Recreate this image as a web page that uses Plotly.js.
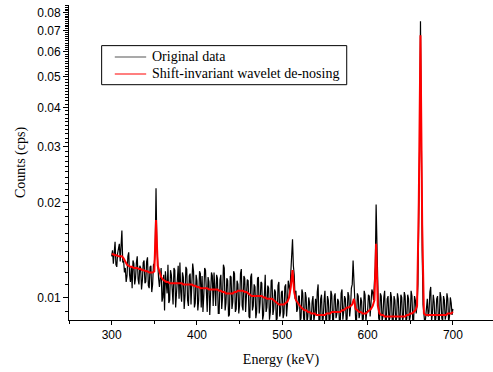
<!DOCTYPE html>
<html>
<head>
<meta charset="utf-8">
<script src="https://cdn.plot.ly/plotly-3.0.1.min.js"></script>
<style>html,body{margin:0;padding:0;background:#fff;}#chart{width:493px;height:372px;}</style>
</head>
<body>
<div id="chart"></div>
<script>
// Original data: 300 .. 700 keV, 1 keV channels
var originalStart = 300;
var originalStep = 1;
// De-noised data: 300 .. 700 keV, 2 keV step
var denoisedStart = 300;
var denoisedStep = 2;

// Original data (cps), 20 values per row, row start energy in comment
var originalData = [
  0.0135,0.0141,0.0128,0.0146,0.0150,0.0127,0.0125,0.0138,0.0142,0.0148,0.0130,0.0145,0.0163,0.0129,0.0131,0.0120,0.0124,0.0112,0.0117,0.0135, // 300
  0.0139,0.0118,0.0112,0.0125,0.0107,0.0131,0.0128,0.0110,0.0115,0.0129,0.0135,0.0114,0.0110,0.0126,0.0124,0.0106,0.0113,0.0129,0.0131,0.0111, // 320
  0.0112,0.0130,0.0134,0.0109,0.0107,0.0125,0.0126,0.0104,0.0110,0.0127,0.0128,0.0140,0.0222,0.0145,0.0126,0.0115,0.0108,0.0121,0.0124,0.0097, // 340
  0.0100,0.0118,0.0091,0.0121,0.0112,0.0103,0.0127,0.0096,0.0098,0.0122,0.0118,0.0101,0.0095,0.0124,0.0122,0.0093,0.0104,0.0119,0.0126,0.0099, // 360
  0.0129,0.0104,0.0097,0.0120,0.0116,0.0092,0.0101,0.0125,0.0123,0.0098,0.0094,0.0117,0.0119,0.0095,0.0106,0.0128,0.0121,0.0093,0.0096,0.0118, // 380
  0.0113,0.0091,0.0098,0.0121,0.0119,0.0093,0.0117,0.0090,0.0101,0.0124,0.0122,0.0095,0.0090,0.0116,0.0112,0.0088,0.0099,0.0120,0.0117,0.0094, // 400
  0.0120,0.0097,0.0094,0.0118,0.0115,0.0089,0.0089,0.0114,0.0118,0.0092,0.0100,0.0127,0.0124,0.0091,0.0096,0.0115,0.0113,0.0087,0.0088,0.0117, // 420
  0.0116,0.0092,0.0097,0.0121,0.0119,0.0090,0.0092,0.0113,0.0110,0.0089,0.0095,0.0119,0.0123,0.0094,0.0091,0.0117,0.0115,0.0090,0.0099,0.0114, // 440
  0.0113,0.0087,0.0086,0.0116,0.0119,0.0091,0.0094,0.0110,0.0108,0.0086,0.0090,0.0115,0.0116,0.0089,0.0096,0.0112,0.0111,0.0085,0.0088,0.0114, // 460
  0.0118,0.0090,0.0093,0.0109,0.0107,0.0085,0.0090,0.0113,0.0114,0.0088,0.0092,0.0106,0.0104,0.0084,0.0086,0.0109,0.0112,0.0087,0.0090,0.0104, // 480
  0.0105,0.0086,0.0089,0.0108,0.0110,0.0087,0.0095,0.0113,0.0109,0.0104,0.0120,0.0138,0.0153,0.0126,0.0118,0.0099,0.0105,0.0090,0.0092,0.0101, // 500
  0.0101,0.0084,0.0086,0.0106,0.0103,0.0086,0.0083,0.0104,0.0100,0.0083,0.0087,0.0100,0.0096,0.0082,0.0085,0.0097,0.0101,0.0084,0.0088,0.0099, // 520
  0.0088,0.0104,0.0110,0.0084,0.0083,0.0099,0.0102,0.0083,0.0086,0.0098,0.0105,0.0085,0.0084,0.0101,0.0098,0.0082,0.0086,0.0105,0.0102,0.0085, // 540
  0.0084,0.0101,0.0103,0.0086,0.0089,0.0099,0.0097,0.0083,0.0084,0.0103,0.0106,0.0085,0.0090,0.0101,0.0099,0.0083,0.0086,0.0104,0.0101,0.0087, // 560
  0.0093,0.0107,0.0110,0.0131,0.0112,0.0098,0.0085,0.0084,0.0103,0.0101,0.0086,0.0089,0.0100,0.0097,0.0083,0.0086,0.0105,0.0102,0.0084,0.0090, // 580
  0.0090,0.0102,0.0101,0.0087,0.0094,0.0106,0.0104,0.0098,0.0112,0.0125,0.0197,0.0120,0.0110,0.0086,0.0084,0.0103,0.0101,0.0084,0.0087,0.0100, // 600
  0.0105,0.0083,0.0085,0.0099,0.0101,0.0084,0.0086,0.0104,0.0100,0.0082,0.0084,0.0101,0.0098,0.0083,0.0086,0.0103,0.0099,0.0084,0.0083,0.0102, // 620
  0.0100,0.0084,0.0087,0.0104,0.0101,0.0083,0.0086,0.0102,0.0099,0.0084,0.0087,0.0105,0.0101,0.0083,0.0085,0.0101,0.0098,0.0089,0.0095,0.0110, // 640
  0.0160,0.0300,0.0751,0.0260,0.0140,0.0095,0.0090,0.0083,0.0086,0.0097,0.0099,0.0087,0.0090,0.0104,0.0108,0.0084,0.0089,0.0102,0.0097,0.0083, // 660
  0.0086,0.0099,0.0101,0.0085,0.0083,0.0104,0.0100,0.0086,0.0084,0.0101,0.0098,0.0085,0.0088,0.0103,0.0099,0.0083,0.0087,0.0100,0.0096,0.0088, // 680
  0.0092                                                                                                                                          // 700
];

// Shift-invariant wavelet de-noised data (cps), 10 values per row
var denoisedData = [
  0.0137,0.0137,0.0136,0.0136,0.0135,0.0135,0.0135,0.0133,0.0130,0.0127, // 300
  0.0126,0.0125,0.0125,0.0124,0.0124,0.0124,0.0123,0.0123,0.0122,0.0122, // 320
  0.0121,0.0121,0.0120,0.0120,0.0120,0.0121,0.0176,0.0126,0.0120,0.0116, // 340
  0.0114,0.0113,0.0112,0.0112,0.0111,0.0111,0.0111,0.0111,0.0111,0.0111, // 360
  0.0111,0.0111,0.0110,0.0110,0.0110,0.0110,0.0110,0.0110,0.0109,0.0109, // 380
  0.0108,0.0108,0.0107,0.0107,0.0107,0.0107,0.0107,0.0106,0.0106,0.0106, // 400
  0.0106,0.0106,0.0106,0.0105,0.0105,0.0104,0.0104,0.0103,0.0103,0.0103, // 420
  0.0103,0.0103,0.0104,0.0104,0.0105,0.0105,0.0105,0.0105,0.0104,0.0104, // 440
  0.0103,0.0102,0.0101,0.0101,0.0101,0.0101,0.0101,0.0101,0.0101,0.0100, // 460
  0.0100,0.0099,0.0099,0.0099,0.0099,0.0098,0.0097,0.0096,0.0095,0.0095, // 480
  0.0095,0.0095,0.0096,0.0097,0.0100,0.0108,0.0122,0.0104,0.0098,0.0096, // 500
  0.0094,0.0093,0.0092,0.0091,0.0091,0.0090,0.0090,0.0089,0.0089,0.0089, // 520
  0.0088,0.0088,0.0088,0.0088,0.0088,0.0088,0.0089,0.0089,0.0089,0.0090, // 540
  0.0090,0.0090,0.0090,0.0090,0.0090,0.0091,0.0091,0.0092,0.0093,0.0093, // 560
  0.0094,0.0095,0.0099,0.0092,0.0091,0.0090,0.0090,0.0089,0.0089,0.0089, // 580
  0.0090,0.0091,0.0092,0.0094,0.0098,0.0148,0.0094,0.0089,0.0088,0.0088, // 600
  0.0087,0.0087,0.0087,0.0087,0.0087,0.0087,0.0087,0.0087,0.0087,0.0087, // 620
  0.0087,0.0087,0.0087,0.0088,0.0088,0.0089,0.0089,0.0090,0.0091,0.0094, // 640
  0.0200,0.0678,0.0170,0.0089,0.0088,0.0088,0.0088,0.0088,0.0088,0.0088, // 660
  0.0088,0.0088,0.0088,0.0088,0.0088,0.0088,0.0088,0.0089,0.0089,0.0089, // 680
  0.0090                                                                   // 700
];

var seriesNames = ["Original data", "Shift-invariant wavelet de-nosing"];
var seriesColors = ["#000000", "#ff0000"];

var xTickVals = [300, 400, 500, 600, 700];
var xTickText = ["300", "400", "500", "600", "700"];
var yTickVals = [0.01, 0.02, 0.03, 0.04, 0.05, 0.06, 0.07, 0.08];
var yTickText = ["0.01", "0.02", "0.03", "0.04", "0.05", "0.06", "0.07", "0.08"];

// minor y ticks every 0.001
var yMinor = [];
for (var k = 8; k <= 84; k++) {
  if (k % 10 !== 0) yMinor.push(k / 1000);
}

var traces = [
  {
    type: "scatter", mode: "lines", name: seriesNames[0],
    x0: originalStart, dx: originalStep, y: originalData,
    line: {color: seriesColors[0], width: 1.2}
  },
  {
    type: "scatter", mode: "lines", name: seriesNames[1],
    x0: denoisedStart, dx: denoisedStep, y: denoisedData,
    line: {color: seriesColors[1], width: 2}
  }
];

var sans = "'Liberation Sans', Arial, sans-serif";
var serif = "'Liberation Serif', 'Times New Roman', serif";

// Legend drawn as a boxed key (paper coordinates)
var legBox = {x0: 0.077, x1: 0.655, y0: 0.747, y1: 0.871};
var legRows = [0.835, 0.781];
var legLineX = [0.108, 0.182];
var legTextX = 0.192;

var shapes = [
  {type: "rect", xref: "paper", yref: "paper", x0: legBox.x0, x1: legBox.x1, y0: legBox.y0, y1: legBox.y1,
   line: {color: "#000", width: 1}, fillcolor: "#fff", layer: "above"}
];
var annotations = [];
for (var i = 0; i < seriesNames.length; i++) {
  shapes.push({type: "line", xref: "paper", yref: "paper", x0: legLineX[0], x1: legLineX[1], y0: legRows[i], y1: legRows[i],
    line: {color: i === 0 ? "#555" : seriesColors[i], width: 1.2}, layer: "above"});
  annotations.push({xref: "paper", yref: "paper", x: legTextX, y: legRows[i], xanchor: "left", yanchor: "middle",
    text: seriesNames[i], showarrow: false, font: {family: serif, size: 14, color: "#000"}});
}

var layout = {
  width: 493, height: 372,
  margin: {l: 69, r: 0, t: 5, b: 52},
  paper_bgcolor: "#ffffff", plot_bgcolor: "#ffffff",
  showlegend: false,
  shapes: shapes,
  annotations: annotations,
  xaxis: {
    range: [250, 747],
    showline: true, linecolor: "#000", linewidth: 1,
    showgrid: false, zeroline: false,
    ticks: "outside", ticklen: 4, tickwidth: 1, tickcolor: "#000",
    tickmode: "array", tickvals: xTickVals, ticktext: xTickText,
    tickfont: {family: sans, size: 12, color: "#000"},
    minor: {tickmode: "array", tickvals: [250, 350, 450, 550, 650], ticks: "outside", ticklen: 2.5, tickcolor: "#000", tickwidth: 1},
    title: {text: "Energy (keV)", font: {family: serif, size: 14, color: "#000"}, standoff: 12},
    automargin: false
  },
  yaxis: {
    type: "log",
    range: [-2.0715, -1.073],
    showline: true, linecolor: "#000", linewidth: 1,
    showgrid: false, zeroline: false,
    ticks: "outside", ticklen: 5, tickwidth: 1, tickcolor: "#000",
    tickmode: "array", tickvals: yTickVals, ticktext: yTickText,
    tickfont: {family: sans, size: 12, color: "#000"},
    minor: {tickmode: "array", tickvals: yMinor, ticks: "outside", ticklen: 3, tickcolor: "#000", tickwidth: 1},
    title: {text: "Counts (cps)", font: {family: serif, size: 14, color: "#000"}, standoff: 8},
    automargin: false
  }
};

Plotly.newPlot("chart", traces, layout, {displayModeBar: false, staticPlot: true});
</script>
</body>
</html>
